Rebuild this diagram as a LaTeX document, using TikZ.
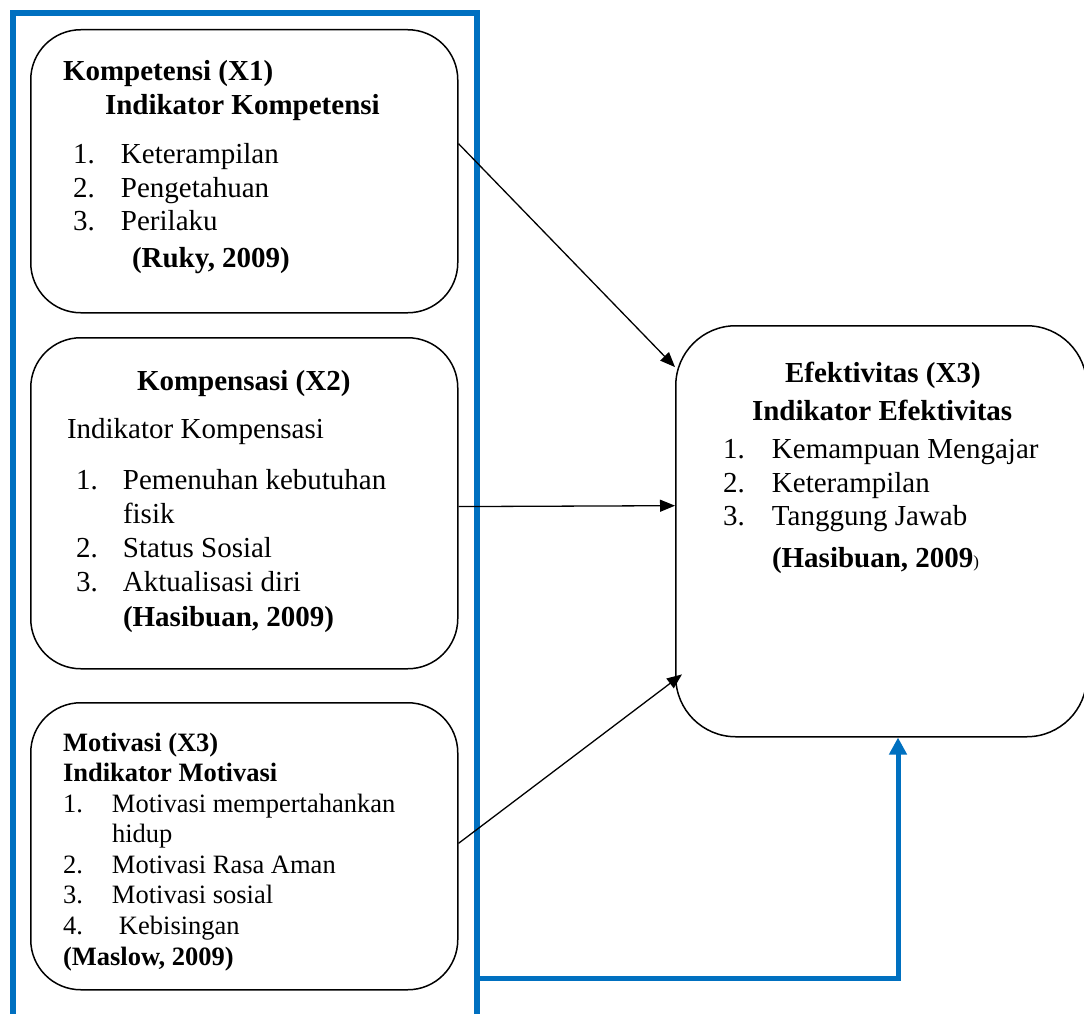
\documentclass[tikz,border=0pt]{standalone}
\usepackage{fontspec}
\setmainfont{Liberation Serif}
\usetikzlibrary{arrows.meta,calc}
\definecolor{wblue}{HTML}{0070C0}
\newcommand\fA{\fontsize{29}{34}\selectfont}
\newcommand\fB{\fontsize{26.5}{30}\selectfont}
\newcommand\tl[4]{\node[txt] (#1) at (#2,#3) {#4};}
\begin{document}
\begin{tikzpicture}[x=1pt,y=-1pt,
  txt/.style={anchor=base west,inner sep=0pt,outer sep=0pt},
  rbox/.style={draw,line width=1.5pt,rounded corners=50pt,rectangle,inner sep=0pt,anchor=north west},
  frame/.style={draw=wblue,line width=5.5pt,rectangle,inner sep=0pt},
  conn/.style={line width=1.3pt,-{Triangle[length=15pt,width=12pt]}},
  feedback/.style={draw=wblue,line width=5pt,-{Triangle[length=17pt,width=17pt]}}]
\useasboundingbox (0,0) rectangle (1084,1014);
\clip (0,0) rectangle (1084,1014);
\fill[white] (0,0) rectangle (1084,1014);
% blue frame
\node[frame,minimum width=464pt,minimum height=1012pt] (frame) at (245,519) {};
% boxes
\node[rbox,minimum width=427pt,minimum height=283pt] (b1) at (30,29) {};
\node[rbox,minimum width=427pt,minimum height=331pt] (b2) at (30,337) {};
\node[rbox,minimum width=427pt,minimum height=287pt] (b3) at (30,702) {};
\node[rbox,rounded corners=60pt,minimum width=411pt,minimum height=411pt] (r) at (675,325) {};
% box 1 text
{\fA
\tl{b1a}{63}{81}{\textbf{Kompetensi (X1)}}
\tl{b1b}{105}{115}{\textbf{Indikator Kompetensi}}
\tl{b1c}{73}{164}{\makebox[48pt][l]{1.}Keterampilan}
\tl{b1d}{73}{197}{\makebox[48pt][l]{2.}Pengetahuan}
\tl{b1e}{73}{230}{\makebox[48pt][l]{3.}Perilaku}
\tl{b1f}{132}{267}{\textbf{(Ruky, 2009)}}
% box 2 text
\tl{b2a}{137}{390}{\textbf{Kompensasi (X2)}}
\tl{b2b}{67}{438}{Indikator Kompensasi}
\tl{b2c}{76}{489}{\makebox[47pt][l]{1.}Pemenuhan kebutuhan}
\tl{b2d}{123}{523}{fisik}
\tl{b2e}{76}{557}{\makebox[47pt][l]{2.}Status Sosial}
\tl{b2f}{76}{591}{\makebox[47pt][l]{3.}Aktualisasi diri}
\tl{b2g}{123}{626}{\textbf{(Hasibuan, 2009)}}
% right box text
\tl{ra}{785}{382}{\textbf{Efektivitas (X3)}}
\tl{rb}{752}{420}{\textbf{Indikator Efektivitas}}
\tl{rc}{723}{458}{\makebox[49pt][l]{1.}Kemampuan Mengajar}
\tl{rd}{723}{492}{\makebox[49pt][l]{2.}Keterampilan}
\tl{re}{723}{525}{\makebox[49pt][l]{3.}Tanggung Jawab}
\tl{rf}{772}{567}{\textbf{(Hasibuan, 2009}{\fontsize{17}{17}\selectfont)}}
}
% box 3 text
{\fB
\tl{b3a}{63}{751}{\textbf{Motivasi (X3)}}
\tl{b3b}{63}{781}{\textbf{Indikator Motivasi}}
\tl{b3c}{63}{812}{\makebox[49pt][l]{1.}Motivasi mempertahankan}
\tl{b3d}{112}{842}{hidup}
\tl{b3e}{63}{873}{\makebox[49pt][l]{2.}Motivasi Rasa Aman}
\tl{b3f}{63}{903}{\makebox[49pt][l]{3.}Motivasi sosial}
\tl{b3g}{63}{934}{\makebox[56pt][l]{4.}Kebisingan}
\tl{b3h}{63}{965}{\textbf{(Maslow, 2009)}}
}
% connectors
\draw[conn] ($(b1.north east)!0.403!(b1.south east)$) -- ($(r.north west)!0.102!(r.south west)$);
\draw[conn] ($(b2.north east)!0.51!(b2.south east)$) -- ($(r.north west)!0.438!(r.south west)$);
\draw[conn] ($(b3.north east)!0.49!(b3.south east)$) -- ([xshift=7pt]$(r.north west)!0.847!(r.south west)$);
\draw[feedback] (frame.east |- 0,978) -| ([xshift=223pt]r.south west);
\end{tikzpicture}
\end{document}
